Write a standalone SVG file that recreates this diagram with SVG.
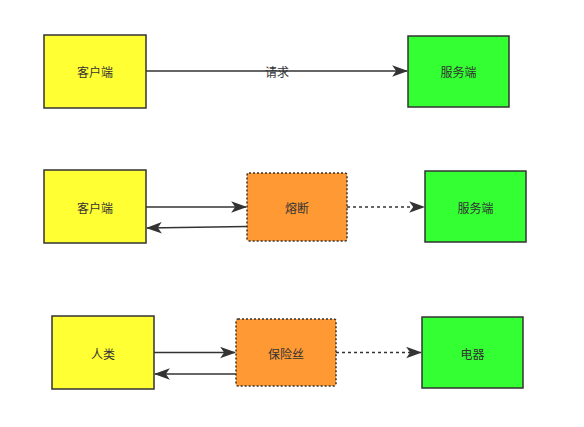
<svg xmlns="http://www.w3.org/2000/svg" width="584" height="427" viewBox="0 0 584 427">
<style>
.box{stroke:#333;stroke-width:1.5}
.y{fill:#ffff33}
.g{fill:#33ff33}
.o{fill:#ff9933;stroke-dasharray:2 2}
.t{font-family:"Liberation Sans","Noto Sans CJK SC",sans-serif;font-size:12px;fill:#333;text-anchor:middle;dominant-baseline:central}
.c{stroke:#333;stroke-width:1.5;fill:none;marker-end:url(#ah)}
.d{stroke-dasharray:3 3}
</style>
<defs>
<marker id="ah" markerUnits="userSpaceOnUse" markerWidth="16" markerHeight="12" viewBox="0 0 14 10" refX="13" refY="5" orient="auto">
<path d="M0,0 L14,5 L0,10 L3.5,5 z" fill="#333"/>
</marker>
</defs>
<rect width="584" height="427" fill="#fff"/>
<g id="connectors">
<line class="c" x1="146" y1="71" x2="407" y2="71"/>
<line class="c" x1="146" y1="207" x2="246" y2="207"/>
<line class="c" x1="247" y1="226.5" x2="147" y2="228"/>
<line class="c d" x1="347" y1="207" x2="424" y2="207"/>
<line class="c" x1="154" y1="352.5" x2="235" y2="352.5"/>
<line class="c" x1="236" y1="374" x2="155" y2="374"/>
<line class="c d" x1="336" y1="352.5" x2="421" y2="352.5"/>
<text class="t" x="277" y="72.5">请求</text>
</g>
<g id="client1"><rect class="box y" x="44" y="35" width="102" height="73"/><text class="t" x="95" y="73">客户端</text></g>
<g id="server1"><rect class="box g" x="408" y="36" width="101" height="71"/><text class="t" x="458.5" y="73">服务端</text></g>
<g id="client2"><rect class="box y" x="44" y="170" width="102" height="73"/><text class="t" x="95" y="208.5">客户端</text></g>
<g id="breaker"><rect class="box o" x="247" y="173" width="100" height="68" rx="2"/><text class="t" x="297" y="208.5">熔断</text></g>
<g id="server2"><rect class="box g" x="425" y="171" width="101" height="71"/><text class="t" x="475.5" y="208.5">服务端</text></g>
<g id="human"><rect class="box y" x="52" y="316" width="102" height="73"/><text class="t" x="103" y="354.5">人类</text></g>
<g id="fuse"><rect class="box o" x="236" y="319" width="100" height="67" rx="2"/><text class="t" x="286" y="354.5">保险丝</text></g>
<g id="appliance"><rect class="box g" x="422" y="317" width="101" height="71"/><text class="t" x="472.5" y="354.5">电器</text></g>
</svg>
